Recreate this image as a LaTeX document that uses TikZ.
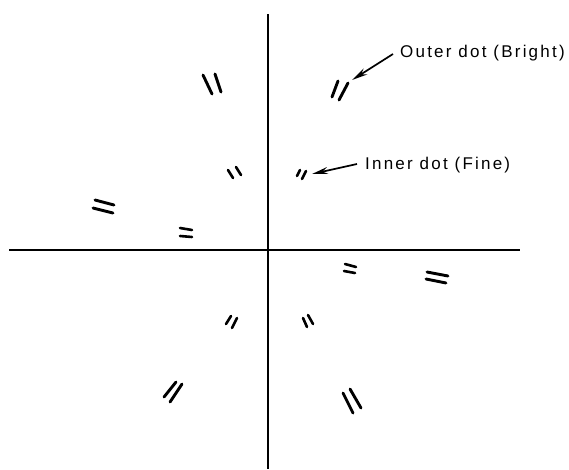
\documentclass[tikz,border=0pt]{standalone}
\usepackage{fontspec}
\setmainfont{Liberation Sans}[LetterSpace=13]
\usetikzlibrary{arrows.meta}
\begin{document}
\begin{tikzpicture}[x=1pt,y=-1pt,
  axis/.style={line width=1.7pt},
  brightmark/.style={line width=2.9pt,line cap=round},
  finemark/.style={line width=2.6pt,line cap=round},
  captiontext/.style={font=\fontsize{17}{20}\selectfont,inner sep=0pt,anchor=base west},
  pointer/.style={line width=1.7pt,-{Stealth[length=16pt,width=7pt]}}]
\useasboundingbox (0,0) rectangle (569,469);
% axes
\coordinate (vtop) at (268,14);
\coordinate (vbot) at (268,469);
\coordinate (hleft) at (9,250);
\coordinate (hright) at (520,250);
\draw[axis] (vtop) -- (vbot);
\draw[axis] (hleft) -- (hright);
% outer (bright) dots
\draw[brightmark] (203,75) -- (212,94) (215,74) -- (221,92);
\draw[brightmark] (332,97) -- (338,81) (339,100) -- (348,83);
\draw[brightmark] (95,200) -- (114,205) (93,208) -- (113,213);
\draw[brightmark] (427,272) -- (448,276) (426,279) -- (446,283);
\draw[brightmark] (164,397) -- (176,382) (170,402) -- (182,384);
\draw[brightmark] (343,393) -- (353,413) (350,389) -- (361,408);
% inner (fine) dots
\draw[finemark] (228,170) -- (233,178) (236,167) -- (241,175);
\draw[finemark] (297,176) -- (300,170) (302,179) -- (306,171);
\draw[finemark] (180,228) -- (192,230) (180,236) -- (192,237);
\draw[finemark] (345,264) -- (356,267) (344,271) -- (355,273);
\draw[finemark] (226,324) -- (231,316) (232,328) -- (237,318);
\draw[finemark] (303,318) -- (307,327) (308,315) -- (313,324);
% labels
\node[captiontext] (outer) at (400,57) {Outer dot (Bright)};
\node[captiontext] (inner) at (365,169) {Inner dot (Fine)};
\coordinate (outertip) at (352,80);
\coordinate (innertip) at (312,174);
\draw[pointer] ([xshift=-7pt,yshift=3pt]outer.base west) -- (outertip);
\draw[pointer] ([xshift=-8pt,yshift=5pt]inner.base west) -- (innertip);
\end{tikzpicture}
\end{document}
